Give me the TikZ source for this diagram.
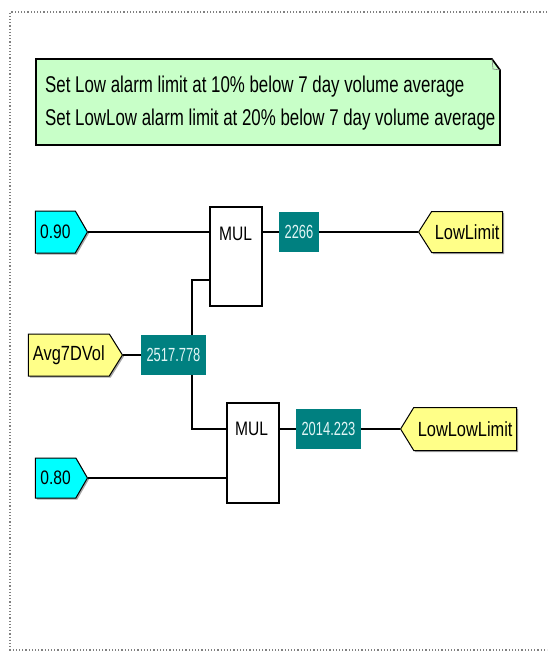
\documentclass[tikz,border=0pt]{standalone}
\usepackage{fontspec}
\setmainfont{Liberation Sans}[FakeStretch=0.8]
\newfontfamily\valfont{Liberation Sans}[FakeStretch=0.68]
\newfontfamily\cmtfont{Liberation Sans}[FakeStretch=0.74]
\usetikzlibrary{shapes.symbols,shadows}
\definecolor{cyanfill}{RGB}{0,255,255}
\definecolor{yelfill}{RGB}{255,255,136}
\definecolor{tealfill}{RGB}{0,128,128}
\definecolor{notefill}{RGB}{200,255,200}
\definecolor{valtext}{RGB}{225,245,245}
\tikzset{
  wire/.style={draw=black, line width=1.3pt},
  tagbase/.style={signal, draw=black, line width=1pt, inner sep=0pt,
    drop shadow={shadow xshift=1.5pt, shadow yshift=-1.5pt, fill=gray!70, opacity=1}},
  tagin/.style={tagbase, signal to=east, signal pointer angle=120, fill=cyanfill,
    minimum width=52pt, minimum height=42pt, font=\fontsize{19.5}{22}\selectfont},
  tagsrc/.style={tagbase, signal to=east, signal pointer angle=116, fill=yelfill,
    minimum height=42pt, font=\fontsize{20.5}{24}\selectfont},
  tagout/.style={tagbase, signal to=west, signal pointer angle=116, fill=yelfill,
    minimum height=42pt, font=\fontsize{20.5}{24}\selectfont},
  valbox/.style={rectangle, fill=tealfill, text=valtext, inner sep=0pt,
    minimum width=65pt, minimum height=40pt, font=\valfont\fontsize{19}{21}\selectfont},
  mulbox/.style={rectangle, draw=black, line width=1.2pt, fill=white,
    minimum width=52pt, minimum height=99pt, inner sep=0pt},
  multext/.style={inner sep=0pt, font=\fontsize{19.5}{21}\selectfont},
  notetext/.style={inner sep=0pt, align=left, font=\cmtfont\fontsize{22.8}{33.5}\selectfont},
}
\begin{document}
\begin{tikzpicture}[x=1pt,y=-1pt]
\useasboundingbox (0,0) rectangle (547,654);
% dotted frame
\draw[gray, dotted, line width=1.2pt] (547,12) -- (10,12) -- (10,650) -- (547,650);

% comment note
\filldraw[fill=notefill, draw=black, line width=1.6pt]
  (36,59) -- (492,59) -- (500,70) -- (500,145) -- (36,145) -- cycle;
\draw[gray, line width=0.6pt] (492,59) -- (493,69) -- (500,70);
\node[notetext, anchor=north west] (note) at (45,75.5)
  {Set Low alarm limit at 10\% below 7 day volume average\\Set LowLow alarm limit at 20\% below 7 day volume average};

% nodes
\node[tagin, anchor=east] (k90) at (88,232) {0.90};
\node[tagin, anchor=east, minimum height=40pt] (k80) at (88,478) {0.80};
\node[tagsrc, anchor=east, minimum width=94pt] (avg) at (123,355) {Avg7DVol};
\node[valbox] (vavg) at (173.5,355) {2517.778};
\node[mulbox] (mul1) at (236,256.5) {};
\node[multext] (mul1t) at (235.5,233.5) {MUL};
\node[mulbox, minimum height=100pt] (mul2) at (253,453) {};
\node[multext] (mul2t) at (251.5,428.5) {MUL};
\node[valbox, minimum width=40pt] (v2266) at (299,232) {2266};
\node[valbox] (v2014) at (328.5,429) {2014.223};
\node[tagout, anchor=west, minimum width=84pt, minimum height=41pt, signal pointer angle=115] (low) at (418,232) {LowLimit};
\node[tagout, anchor=west, minimum width=116pt, minimum height=43pt, signal pointer angle=117] (lowlow) at (400,429) {LowLowLimit};

\coordinate (tap) at (192,355);
\coordinate (in1) at (210,280);
\coordinate (in2) at (227,429);

% connectors
\draw[wire] (k90.east) -- (k90.east -| mul1.west);
\draw[wire] (v2266.west -| mul1.east) -- (v2266.west);
\draw[wire] (v2266.east) -- (low.west);
\draw[wire] (avg.east) -- (vavg.west);
\draw[wire] (vavg.north -| tap) |- (in1);
\draw[wire] (vavg.south -| tap) |- (in2);
\draw[wire] (k80.east) -- (k80.east -| mul2.west);
\draw[wire] (v2014.west -| mul2.east) -- (v2014.west);
\draw[wire] (v2014.east) -- (lowlow.west);
\end{tikzpicture}
\end{document}
